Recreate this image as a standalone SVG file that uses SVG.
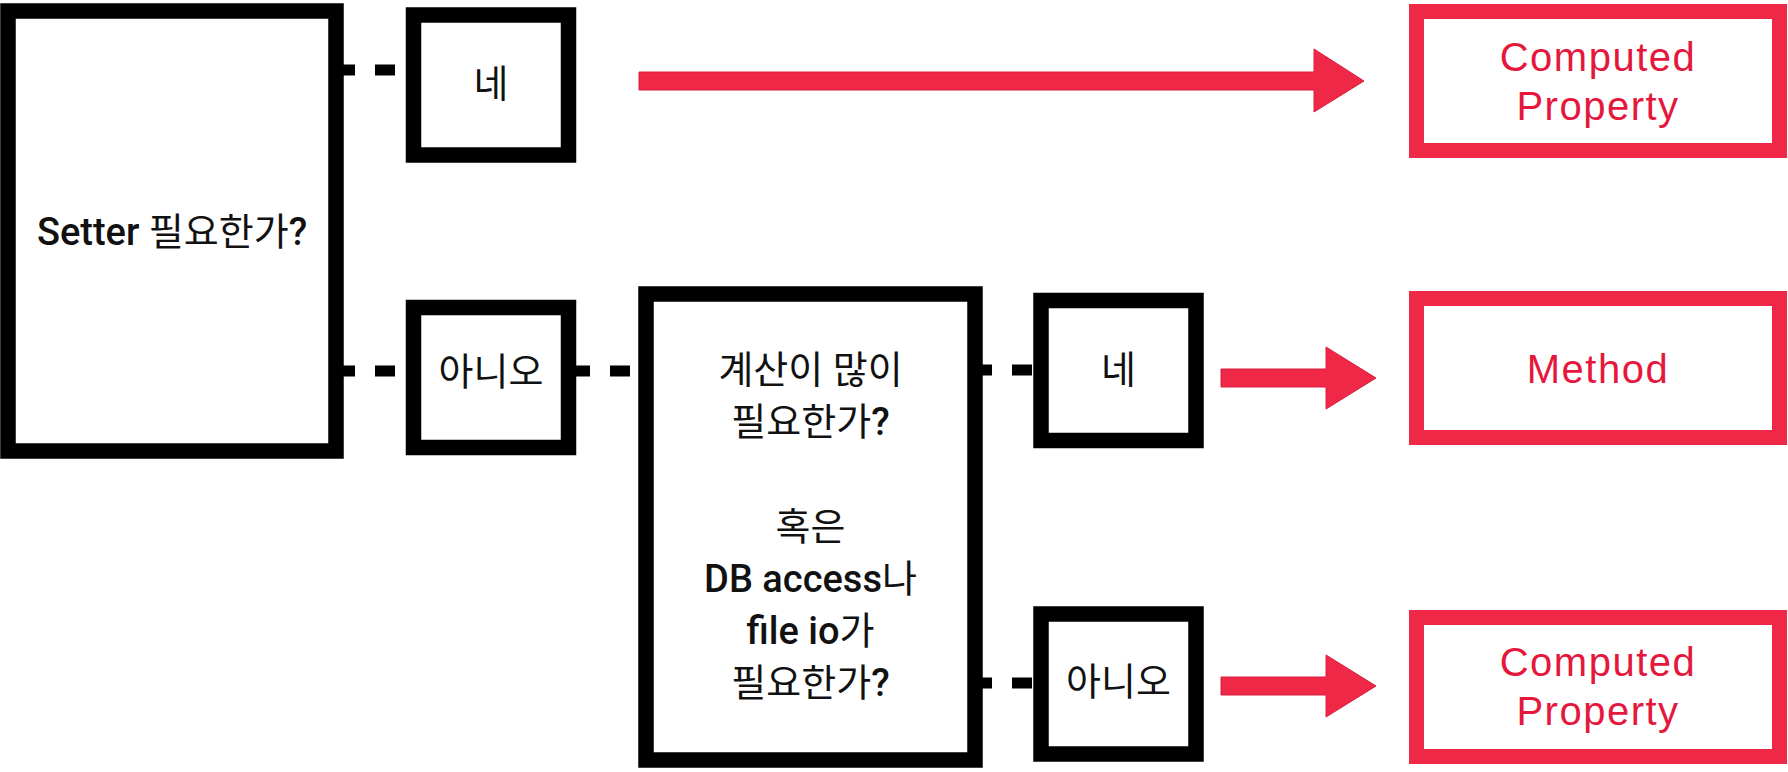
<svg xmlns="http://www.w3.org/2000/svg" width="1788" height="772" viewBox="0 0 1788 772">
<style>
.box{fill:#fff;stroke:#000;stroke-width:15.5}
.rbox{fill:#fff;stroke:#EF2847;stroke-width:15}
.dash{stroke:#000;stroke-width:11;stroke-dasharray:20 20;fill:none}
.arrow{fill:#EF2847;stroke:#D81E3C;stroke-width:1}
.t{font-family:Roboto,"Noto Sans CJK KR",sans-serif;font-weight:500;font-size:38px;fill:#111;text-anchor:middle}
.k{font-weight:400}
.r{font-family:"Liberation Sans","Noto Sans CJK KR",sans-serif;font-size:40px;fill:#E5173D;text-anchor:middle;letter-spacing:1.5px}
</style>
<rect width="1788" height="772" fill="#fff"/>
<g id="connectors">
<line class="dash" x1="335" y1="70" x2="414" y2="70"/>
<line class="dash" x1="335" y1="371" x2="414" y2="371"/>
<line class="dash" x1="570" y1="371" x2="646" y2="371"/>
<line class="dash" x1="972" y1="370" x2="1054" y2="370"/>
<line class="dash" x1="972" y1="683" x2="1054" y2="683"/>
<polygon class="arrow" points="639,72 1314,72 1314,49 1364,81 1314,112 1314,90 639,90"/>
<polygon class="arrow" points="1221,369 1326,369 1326,347 1376,378 1326,409 1326,387 1221,387"/>
<polygon class="arrow" points="1221,677 1326,677 1326,655 1376,686 1326,717 1326,695 1221,695"/>
</g>
<g id="setter">
<rect class="box" x="8" y="11" width="328" height="440"/>
<text class="t" x="172" y="245">Setter <tspan class="k">필요한가</tspan>?</text>
</g>
<g id="yes1">
<rect class="box" x="413.5" y="15" width="155" height="140"/>
<text class="t k" x="491" y="97">네</text>
</g>
<g id="no1">
<rect class="box" x="413.5" y="307.5" width="155" height="140"/>
<text class="t k" x="491" y="385">아니오</text>
</g>
<g id="calc">
<rect class="box" x="646" y="294" width="329" height="466"/>
<text class="t k" x="810.5" y="383">계산이 많이</text>
<text class="t" x="810.5" y="435"><tspan class="k">필요한가</tspan>?</text>
<text class="t k" x="810.5" y="540">혹은</text>
<text class="t" x="810.5" y="592">DB access<tspan class="k">나</tspan></text>
<text class="t" x="810.5" y="644">file io<tspan class="k">가</tspan></text>
<text class="t" x="810.5" y="696"><tspan class="k">필요한가</tspan>?</text>
</g>
<g id="yes2">
<rect class="box" x="1041" y="300.5" width="155" height="140"/>
<text class="t k" x="1118.5" y="383">네</text>
</g>
<g id="no2">
<rect class="box" x="1041" y="614" width="155" height="140"/>
<text class="t k" x="1118.5" y="695">아니오</text>
</g>
<g id="result1">
<rect class="rbox" x="1416.5" y="11.5" width="363" height="139"/>
<text class="r" x="1598" y="71">Computed</text>
<text class="r" x="1598" y="120">Property</text>
</g>
<g id="result2">
<rect class="rbox" x="1416.5" y="298.5" width="363" height="139"/>
<text class="r" x="1598" y="383">Method</text>
</g>
<g id="result3">
<rect class="rbox" x="1416.5" y="617.5" width="363" height="139"/>
<text class="r" x="1598" y="676">Computed</text>
<text class="r" x="1598" y="725">Property</text>
</g>
</svg>
